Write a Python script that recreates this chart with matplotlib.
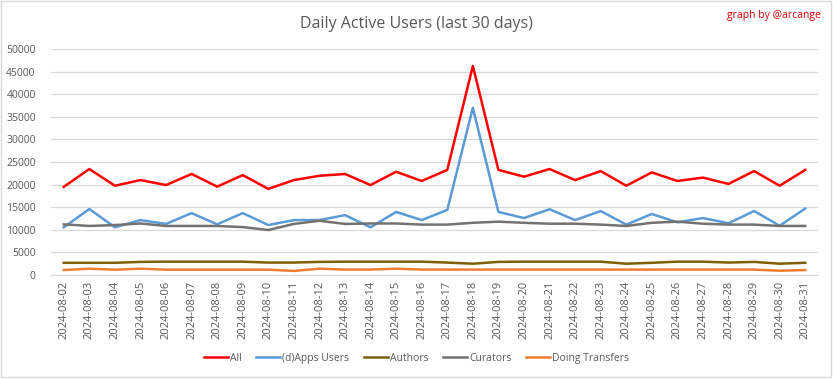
import matplotlib.pyplot as plt
from matplotlib.patches import Rectangle

plt.rcParams['font.family'] = ['Open Sans', 'DejaVu Sans']

dates = ["2024-08-%02d" % d for d in range(2, 32)]

all_users = [19500, 23450, 19750, 21000, 19900, 22350, 19550, 22100, 19050, 21000,
             21950, 22350, 19900, 22850, 20800, 23250, 46250, 23250, 21750, 23450,
             21000, 23000, 19750, 22700, 20800, 21550, 20150, 23000, 19750, 23250]
dapps_users = [10550, 14600, 10550, 12150, 11300, 13700, 11200, 13700, 11050, 12150,
               12150, 13250, 10550, 13950, 12150, 14400, 37000, 13950, 12600, 14550,
               12150, 14150, 11150, 13500, 11650, 12600, 11450, 14150, 10900, 14700]
authors = [2700, 2700, 2700, 2900, 2950, 2950, 2950, 2950, 2750, 2750,
           2900, 2950, 2950, 2950, 2950, 2750, 2500, 2900, 2950, 2950,
           2950, 2950, 2500, 2700, 2950, 2950, 2750, 2900, 2500, 2700]
curators = [11200, 10850, 11050, 11400, 10850, 10850, 10850, 10600, 9950, 11300,
            12000, 11300, 11400, 11400, 11150, 11150, 11550, 11800, 11550, 11350,
            11350, 11150, 10850, 11550, 11800, 11350, 11150, 11150, 10850, 10850]
transfers = [1100, 1400, 1180, 1400, 1180, 1180, 1180, 1180, 1180, 900,
             1400, 1200, 1200, 1400, 1200, 1200, 1200, 1200, 1200, 1200,
             1200, 1200, 1200, 1200, 1200, 1200, 1200, 1200, 950, 1100]

fig = plt.figure(figsize=(8.33, 3.79), dpi=100)
ax = fig.add_axes([0.0612, 0.2744, 0.9208, 0.5963])

x = range(len(dates))
ax.plot(x, all_users, color='#ff0000', lw=1.8, label='All')
ax.plot(x, dapps_users, color='#5b9bd5', lw=1.8, label='(d)Apps Users')
ax.plot(x, authors, color='#7f6000', lw=1.8, label='Authors')
ax.plot(x, curators, color='#767171', lw=1.8, label='Curators')
ax.plot(x, transfers, color='#ed7d31', lw=1.8, label='Doing Transfers')

ax.set_xlim(-0.5, len(dates) - 0.5)
ax.set_ylim(0, 50000)
ax.set_yticks(range(0, 50001, 5000))
ax.set_xticks(list(x))
ax.set_xticklabels(dates, rotation=90)
ax.tick_params(axis='both', length=0, labelsize=8, labelcolor='#595959')
ax.tick_params(axis='y', labelsize=7.5, pad=11)
ax.tick_params(axis='x', pad=4)
ax.grid(axis='y', color='#d9d9d9', lw=0.9)
ax.set_axisbelow(True)
for s in ['top', 'right', 'left']:
    ax.spines[s].set_visible(False)
ax.spines['bottom'].set_color('#d9d9d9')

fig.text(0.5, 0.937, 'Daily Active Users (last 30 days)', ha='center', va='center',
         fontsize=11.5, color='#595959')
fig.text(0.986, 0.958, 'graph by @arcange', ha='right', va='center',
         fontsize=7.5, color='#e00000')

fig.legend(loc='center', bbox_to_anchor=(0.5, 0.055), ncol=5, frameon=False,
           fontsize=7.5, labelcolor='#595959', handlelength=2.3, handletextpad=0.2,
           columnspacing=1.4)

fig.add_artist(Rectangle((0.001, 0.004), 0.996, 0.993, transform=fig.transFigure,
                         fill=False, edgecolor='#d9d9d9', lw=1))

fig.savefig('out.png', dpi=100)
